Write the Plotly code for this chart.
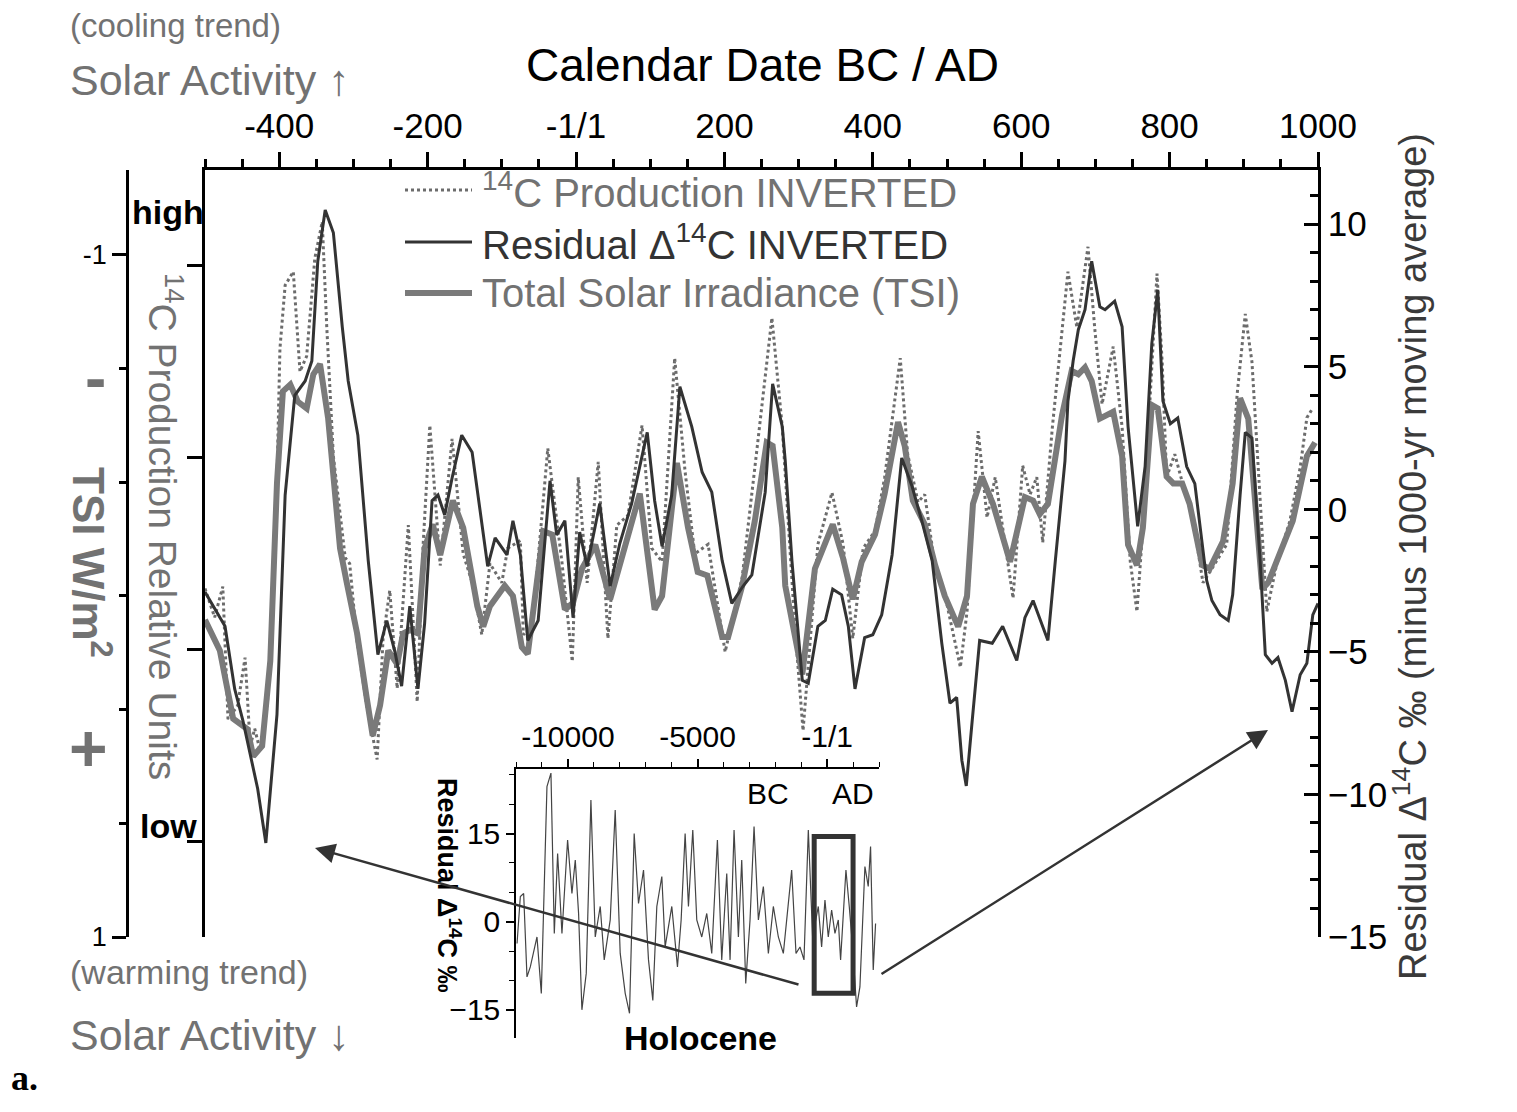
import plotly.graph_objects as go

# ---------------- data ----------------
# Residual delta14C INVERTED (per mil, right axis)
res_year = [-500, -473, -460, -449, -429, -423, -418, -403, -392, -379, -365, -356, -348, -338, -327, -315,
            -307, -294, -280, -267, -255, -244, -235, -224, -213, -204, -194, -186, -177, -167, -154, -140,
            -127, -119, -109, -93, -85, -75, -65, -51, -35, -26, -15, -4, 5, 15, 32, 46, 59, 75, 96, 106,
            116, 129, 140, 156, 170, 183, 197, 210, 225, 237, 255, 265, 278, 282, 291, 305, 313, 326, 336,
            346, 358, 367, 376, 389, 400, 412, 426, 439, 453, 466, 480, 493, 504, 513, 520, 526, 534, 544,
            561, 575, 594, 605, 616, 636, 646, 659, 663, 670, 677, 686, 695, 706, 713, 726, 736, 744, 757,
            767, 776, 784, 791, 801, 811, 823, 834, 841, 850, 857, 868, 879, 885, 895, 902, 911, 922, 929,
            938, 946, 956, 965, 976, 985, 993, 1000]
res_val = [-2.9, -4.1, -6.3, -7.4, -9.8, -10.9, -11.7, -7.2, 0.5, 4.0, 4.5, 5.2, 8.7, 10.5, 9.7, 6.4,
           4.5, 2.6, -1.8, -5.1, -3.9, -5.0, -6.2, -3.4, -6.3, -4.0, 0.3, 0.5, -0.2, 1.1, 2.6, 2.0,
           -0.6, -2.0, -1.0, -1.6, -0.4, -1.6, -4.6, -3.9, 1.0, -0.9, -0.4, -3.8, -0.8, -2.0, 0.2, -2.7,
           -1.2, 0.2, 2.7, 0.3, -1.3, 0.5, 4.3, 2.9, 1.3, 0.6, -1.8, -3.3, -2.7, -2.3, 0.6, 4.4, 2.9, 1.7,
           -1.8, -6.0, -6.1, -4.1, -3.9, -2.8, -3.0, -4.1, -6.3, -4.5, -4.4, -3.7, -1.6, 1.8, 0.8, -0.4,
           -1.8, -4.7, -6.8, -6.6, -8.8, -9.7, -7.4, -4.6, -4.7, -4.1, -5.3, -3.8, -3.2, -4.6, -1.8, 1.7,
           3.8, 5.2, 6.3, 7.0, 8.7, 7.1, 7.0, 7.3, 6.4, 2.9, -0.6, 1.5, 5.8, 7.7, 3.8, 3.0, 3.2, 1.5, 0.9,
           -0.6, -2.5, -3.2, -3.7, -3.9, -3.0, 0.5, 2.7, 2.5, -1.8, -5.1, -5.4, -5.2, -6.0, -7.1, -5.8,
           -5.4, -3.7, -3.3]

# Total Solar Irradiance (W/m^2, left TSI axis)
tsi_year = [-500, -480, -462, -443, -435, -423, -412, -403, -395, -385, -375, -363, -354, -345, -334, -318,
            -309, -295, -282, -274, -264, -253, -241, -233, -224, -213, -204, -193, -183, -166, -152, -133,
            -125, -116, -96, -85, -73, -65, -44, -32, -15, -4, 8, 26, 46, 86, 106, 116, 136, 151, 164, 177,
            197, 205, 224, 241, 257, 265, 278, 282, 305, 322, 346, 360, 373, 385, 403, 416, 434, 443, 454,
            470, 484, 497, 515, 527, 535, 547, 562, 585, 605, 616, 625, 636, 655, 668, 677, 686, 695, 706,
            724, 736, 744, 756, 764, 776, 784, 796, 805, 817, 827, 844, 854, 872, 885, 895, 906, 925, 933,
            949, 966, 985, 996]
tsi_val = [0.07, 0.16, 0.36, 0.39, 0.47, 0.44, 0.19, -0.33, -0.60, -0.62, -0.57, -0.55, -0.65, -0.68, -0.52,
           -0.14, -0.04, 0.11, 0.30, 0.41, 0.32, 0.16, 0.20, 0.11, 0.10, 0.11, -0.14, -0.21, -0.12, -0.28,
           -0.20, 0.03, 0.09, 0.03, -0.03, 0.00, 0.15, 0.17, -0.19, -0.18, 0.04, 0.02, -0.08, -0.15, 0.01,
           -0.30, 0.04, 0.00, -0.39, -0.20, -0.07, -0.06, 0.12, 0.12, -0.03, -0.22, -0.45, -0.44, -0.20,
           -0.03, 0.23, -0.08, -0.21, -0.11, 0.01, -0.10, -0.18, -0.30, -0.51, -0.44, -0.28, -0.21, -0.09,
           0.00, 0.09, 0.00, -0.27, -0.35, -0.27, -0.10, -0.29, -0.28, -0.24, -0.27, -0.53, -0.66, -0.65,
           -0.67, -0.63, -0.52, -0.54, -0.41, -0.15, -0.09, -0.20, -0.56, -0.55, -0.35, -0.33, -0.33, -0.27,
           -0.09, -0.08, -0.16, -0.33, -0.58, -0.52, -0.02, -0.04, -0.13, -0.22, -0.41, -0.45]

# 14C Production INVERTED (relative units, inner left axis)
prod_year = [-500, -487, -476, -469, -456, -446, -439, -433, -426, -416, -410, -403, -399, -392, -381, -372,
             -363, -352, -342, -336, -327, -311, -305, -295, -282, -268, -260, -251, -241, -226, -214, -206,
             -197, -183, -167, -152, -139, -127, -116, -100, -92, -75, -71, -59, -38, -19, -5, 3, 15, 30, 43,
             55, 70, 89, 102, 116, 133, 147, 160, 178, 201, 224, 244, 264, 278, 295, 306, 326, 345, 360, 373,
             387, 403, 416, 437, 447, 461, 470, 484, 497, 518, 527, 542, 554, 565, 578, 589, 602, 612, 621,
             629, 642, 655, 663, 675, 690, 699, 709, 724, 736, 747, 756, 764, 774, 783, 790, 796, 807, 818,
             830, 845, 858, 877, 891, 902, 911, 919, 931, 945, 962, 976, 985, 993]
prod_val = [1.32, 1.17, 1.33, 0.64, 0.71, 0.96, 0.50, 0.59, 0.48, 0.71, 1.18, 1.88, 2.57, 2.90, 2.97, 2.45,
            2.53, 3.04, 3.23, 2.69, 2.01, 1.48, 1.45, 1.04, 0.71, 0.43, 1.06, 1.31, 0.80, 1.65, 0.73, 1.55,
            2.17, 1.44, 2.10, 1.50, 1.34, 1.08, 1.45, 1.35, 1.53, 1.57, 1.08, 1.12, 2.05, 1.46, 0.94, 1.90,
            1.35, 1.98, 1.06, 1.65, 1.70, 2.17, 1.53, 1.46, 2.52, 1.93, 1.50, 1.55, 0.99, 1.38, 2.05, 2.73,
            2.16, 1.12, 0.58, 1.55, 1.82, 1.55, 1.06, 1.53, 1.62, 1.90, 2.52, 2.02, 1.77, 1.81, 1.43, 1.29,
            0.91, 1.20, 2.14, 1.69, 1.90, 1.55, 1.27, 1.96, 1.81, 1.90, 1.56, 2.16, 2.64, 2.97, 2.68, 3.10,
            2.68, 2.28, 2.58, 2.16, 1.46, 1.20, 1.64, 2.33, 2.96, 2.50, 1.90, 2.02, 1.86, 1.72, 1.35, 1.43,
            1.55, 2.33, 2.75, 2.50, 1.98, 1.20, 1.46, 1.67, 1.95, 2.21, 2.26]

# Holocene inset: residual delta14C (per mil)
hol_year = [-11960, -11833, -11705, -11576, -11448, -11319, -11191, -11024, -10806, -10652, -10523, -10395,
            -10228, -10010, -9843, -9714, -9586, -9458, -9291, -9111, -8944, -8751, -8597, -8366, -8174,
            -7981, -7788, -7622, -7442, -7275, -7082, -6890, -6723, -6569, -6376, -6248, -5991, -5773,
            -5631, -5477, -5349, -5182, -5028, -4835, -4643, -4450, -4232, -4065, -3872, -3744, -3590,
            -3423, -3294, -3140, -2974, -2819, -2652, -2460, -2267, -2075, -1882, -1689, -1497, -1368,
            -1201, -1047, -893, -726, -560, -341, -213, -84, 44, 173, 301, 430, 519, 622, 725, 853, 981,
            1135, 1264, 1457, 1585, 1675, 1778, 1868]
hol_val = [-3.7, 4.3, 4.8, -9.4, -7.7, -5.4, -2.6, -12.2, 23.0, 25.3, -2.0, 11.6, -2.0, 13.9, 4.8, 10.5,
           1.4, -15.0, -8.8, 20.7, -2.6, 2.6, -6.5, 0.3, 19.0, -5.4, -12.2, -15.6, 15.0, 3.1, 8.8, -6.5,
           -13.4, 2.6, 7.7, -4.3, 2.6, -7.7, 0.3, 15.0, 2.6, 15.6, 0.3, -2.6, 1.4, -5.4, 13.9, -6.5, 8.2,
           -6.5, 15.6, -2.6, 10.5, -10.5, 0.3, 16.2, 0.3, 6.0, -5.4, 2.6, -2.6, -5.4, 2.6, 8.8, -5.4, -4.3,
           -6.5, 15.6, -2.6, 2.6, -4.3, 3.7, -2.6, 2.0, -2.0, 0.3, -6.5, 1.4, 8.8, 2.6, -4.3, -14.5, -11.1,
           9.4, 6.0, 12.8, -8.2, -0.3]

# tick labels
main_tickvals = [-400, -200, 0, 200, 400, 600, 800, 1000]
main_ticktext = ['-400', '-200', '-1/1', '200', '400', '600', '800', '1000']
inset_tickvals = [-10000, -5000, 0]
inset_ticktext = ['-10000', '-5000', '-1/1']
zoom_window = [-500, 1000]          # period shown in the main panel
zoom_window_val = [-12.2, 14.5]     # height of the highlight box in the inset

# ---------------- layout helpers ----------------
# the page adds an 8 px body margin, so the figure is drawn 8 px smaller and
# reference pixel coordinates are mapped with that offset
OFF = 8
W, H = 1517 - 2 * OFF, 1112 - 2 * OFF
REF_L, REF_R, REF_T, REF_B = 60, 1318, 170, 1045     # plotting area in reference pixels
ML, MT = REF_L - OFF, REF_T - OFF
MR, MB = W - (REF_R - OFF), H - (REF_B - OFF)
PW, PH = REF_R - REF_L, REF_B - REF_T


def px_x(px):
    return (px - REF_L) / PW


def px_y(py):
    return (REF_B - py) / PH


FONT = "Liberation Sans, Arial, sans-serif"
GRAY = "#727272"
DARK = "#333333"

fig = go.Figure()
fig.add_trace(go.Scatter(x=prod_year, y=prod_val, mode="lines", yaxis="y", xaxis="x",
                         line=dict(color="#6c6c6c", width=3, dash="dot"), showlegend=False))
fig.add_trace(go.Scatter(x=tsi_year, y=tsi_val, mode="lines", yaxis="y2", xaxis="x",
                         line=dict(color="#7a7a7a", width=6), showlegend=False))
fig.add_trace(go.Scatter(x=res_year, y=res_val, mode="lines", yaxis="y3", xaxis="x",
                         line=dict(color=DARK, width=3), showlegend=False))
fig.add_trace(go.Scatter(x=hol_year, y=hol_val, mode="lines", yaxis="y4", xaxis="x2",
                         line=dict(color="#444444", width=1.2), showlegend=False))

axis_common = dict(showgrid=False, zeroline=False, showline=True, linecolor="black", linewidth=2.5,
                   tickcolor="black", tickwidth=2.5)

fig.update_layout(
    width=W, height=H, autosize=False,
    margin=dict(l=ML, r=MR, t=MT, b=MB, pad=0),
    paper_bgcolor="white", plot_bgcolor="white",
    font=dict(family=FONT, color="black"),
    showlegend=False,
    xaxis=dict(domain=[px_x(205), 1.0], anchor="y", side="top", range=[-500, 1000],
               tickvals=main_tickvals, ticktext=main_ticktext, ticks="outside", ticklen=15,
               tickfont=dict(size=35, color="black"),
               minor=dict(dtick=50, tick0=0, ticks="outside", ticklen=8, tickwidth=2.5, tickcolor="black"),
               **axis_common),
    yaxis=dict(domain=[px_y(937), 1.0], anchor="x", side="left", range=[-0.495, 3.5],
               dtick=1, tick0=0, ticks="outside", ticklen=15, showticklabels=False, **axis_common),
    yaxis2=dict(overlaying="y", anchor="free", position=px_x(127), side="left", range=[1.0, -1.249],
                tickvals=[-1, 1], ticktext=["-1", "1"], ticks="outside", ticklen=14,
                tickfont=dict(size=27, color="black"),
                minor=dict(dtick=1 / 3, tick0=-1, ticks="outside", ticklen=7, tickwidth=2.5, tickcolor="black"),
                **axis_common),
    yaxis3=dict(overlaying="y", anchor="x", side="right", range=[-15, 11.9], dtick=5, tick0=0,
                ticks="inside", ticklen=14, tickfont=dict(size=35, color="black"),
                minor=dict(dtick=1, tick0=0, ticks="inside", ticklen=8, tickwidth=2.5, tickcolor="black"),
                **axis_common),
    xaxis2=dict(domain=[px_x(516), px_x(879)], anchor="y4", side="top", range=[-12000, 2000],
                tickvals=inset_tickvals, ticktext=inset_ticktext, ticks="outside", ticklen=8,
                tickfont=dict(size=30, color="black"), showgrid=False, zeroline=False, showline=True,
                linecolor="black", linewidth=1.5, tickcolor="black", tickwidth=1.5,
                minor=dict(dtick=1000, tick0=0, ticks="outside", ticklen=5, tickwidth=1.2, tickcolor="black")),
    yaxis4=dict(domain=[px_y(1038), px_y(769)], anchor="x2", range=[-19.8, 26], tickvals=[-15, 0, 15],
                ticks="outside", ticklen=8, tickfont=dict(size=30, color="black"), showgrid=False,
                zeroline=False, showline=True, linecolor="black", linewidth=1.5, tickcolor="black",
                tickwidth=1.5,
                minor=dict(dtick=5, tick0=0, ticks="outside", ticklen=5, tickwidth=1.2, tickcolor="black")),
)

# highlight box in the inset
fig.add_shape(type="rect", xref="x2", yref="y4", x0=zoom_window[0], x1=zoom_window[1],
              y0=zoom_window_val[0], y1=zoom_window_val[1], line=dict(color=DARK, width=5))

# custom legend
legend_rows = [
    ("<sup>14</sup>C Production INVERTED", dict(color="#6c6c6c", width=3, dash="dot"), GRAY, 190),
    ("Residual Δ<sup>14</sup>C INVERTED", dict(color=DARK, width=3), DARK, 242),
    ("Total Solar Irradiance (TSI)", dict(color="#7a7a7a", width=6), GRAY, 293),
]
for label, ln, tcol, py in legend_rows:
    fig.add_shape(type="line", xref="paper", yref="paper", x0=px_x(405), x1=px_x(472),
                  y0=px_y(py), y1=px_y(py), line=ln)
    fig.add_annotation(x=px_x(480), y=px_y(py), xref="paper", yref="paper", text=label,
                       showarrow=False, xanchor="left", yanchor="middle",
                       font=dict(size=40, color=tcol, family=FONT))


def note(text, px, py, size, color="black", angle=0, bold=False, xanchor="center", family=FONT):
    if bold:
        text = "<b>" + text + "</b>"
    fig.add_annotation(x=px_x(px), y=px_y(py), xref="paper", yref="paper", text=text, showarrow=False,
                       xanchor=xanchor, yanchor="middle", textangle=angle,
                       font=dict(size=size, color=color, family=family))


note("Calendar Date BC / AD", 762, 65, 46)
note("(cooling trend)", 68, 26, 33, GRAY, xanchor="left")
note("Solar Activity ↑", 68, 80, 43, GRAY, xanchor="left")
note("(warming trend)", 68, 972, 34, GRAY, xanchor="left")
note("Solar Activity ↓", 68, 1035, 43, GRAY, xanchor="left")
note("a.", 24, 1078, 36, bold=True, family="Liberation Serif, serif")
note("Residual Δ<sup>14</sup>C ‰ (minus 1000-yr moving average)", 1410, 557, 38, "#3a3a3a", angle=-90)
note("<sup>14</sup>C Production Relative Units", 166, 526, 39, GRAY, angle=90)
note("TSI W/m<sup>2</sup>", 92, 562, 44, GRAY, angle=90, bold=True)
note("-", 95, 378, 64, GRAY, bold=True)
note("+", 88, 748, 66, GRAY, bold=True)
note("high", 168, 212, 34, bold=True)
note("low", 168, 826, 34, bold=True)
note("BC", 768, 793, 30)
note("AD", 853, 793, 30)
note("Holocene", 700, 1038, 34, bold=True)
note("Residual Δ<sup>14</sup>C ‰", 449, 885, 27, angle=90, bold=True)

# arrows from the inset box to the main panel
for head, tail in [((315, 848), (800, 985)), ((1268, 730), (880, 975))]:
    fig.add_annotation(x=px_x(head[0]), y=px_y(head[1]), xref="paper", yref="paper", text="",
                       showarrow=True, ax=tail[0] - head[0], ay=tail[1] - head[1],
                       arrowhead=2, arrowsize=1.6, arrowwidth=2.5, arrowcolor=DARK, standoff=0)

fig.write_html("out.html")
